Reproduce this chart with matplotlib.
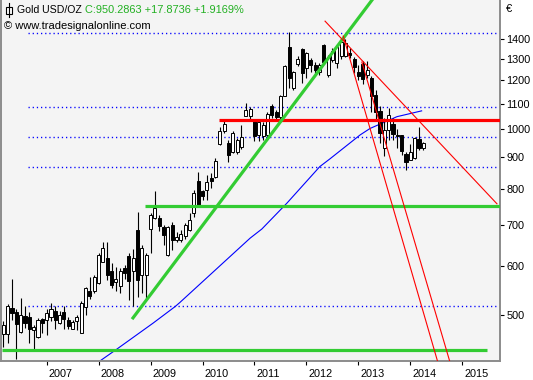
import matplotlib
matplotlib.use('Agg')
import matplotlib.pyplot as plt
from matplotlib.transforms import blended_transform_factory
from matplotlib.patches import Rectangle
from matplotlib.lines import Line2D

plt.rcParams['font.family'] = ['Liberation Sans', 'DejaVu Sans']
plt.rcParams['lines.scale_dashes'] = False

# ---- data (monthly candles, first candle = March 2006) ----
first_year = 2006
first_month = 3
opens = [466, 466, 513, 506, 470, 498, 496, 473, 460, 493,
         490, 496, 508, 486, 506, 491, 475, 488, 467, 515,
         547, 546, 563, 610, 618, 589, 565, 558, 595, 623,
         588, 687, 580, 580, 689, 717, 717, 694, 625, 699,
         661, 661, 671, 687, 731, 824, 793, 796, 833, 837,
         948, 995, 950, 920, 917, 936, 1052, 1050, 1035, 979,
         976, 979, 1092, 1068, 1045, 1131, 1360, 1165, 1275, 1350,
         1256, 1295, 1271, 1240, 1369, 1224, 1295, 1282, 1315, 1313,
         1328, 1298, 1236, 1275, 1224, 1210, 1136, 1069, 931, 997,
         1020, 979, 978, 912, 892, 898, 964, 932.4]
highs = [488, 520, 572, 511, 533, 516, 506, 482, 495, 495,
         511, 523, 517, 508, 516, 497, 491, 500, 526, 555,
         575, 580, 630, 656, 656, 606, 597, 595, 603, 629,
         640, 735, 649, 629, 731, 794, 726, 700, 697, 708,
         682, 687, 704, 731, 797, 853, 797, 843, 848, 897,
         1010, 1035, 961, 992, 967, 1016, 1102, 1085, 1035, 1035,
         1026, 1065, 1098, 1074, 1136, 1271, 1435, 1243, 1316, 1354,
         1334, 1306, 1283, 1282, 1374, 1321, 1354, 1369, 1405, 1400,
         1352, 1311, 1271, 1289, 1289, 1218, 1158, 1090, 1042, 1081,
         1042, 1001, 979, 920, 948, 972, 1010, 955]
lows = [444, 450, 491, 424, 468, 476, 450, 440, 458, 468,
        464, 488, 475, 484, 475, 474, 474, 473, 467, 500,
        531, 542, 561, 609, 570, 553, 546, 542, 572, 529,
        517, 535, 542, 530, 630, 714, 683, 649, 623, 637,
        656, 656, 665, 683, 722, 749, 768, 768, 804, 834,
        943, 985, 886, 915, 913, 930, 1050, 1030, 958, 956,
        961, 961, 1042, 1035, 1035, 1130, 1165, 1158, 1266, 1187,
        1210, 1240, 1234, 1224, 1278, 1216, 1287, 1258, 1300, 1309,
        1306, 1233, 1202, 1186, 1210, 1066, 1035, 950, 905, 961,
        961, 932, 908, 859, 890, 896, 925, 925]
closes = [482, 517, 503, 483, 499, 486, 474, 478, 491, 485,
          503, 511, 491, 500, 492, 480, 487, 496, 523, 552,
          537, 577, 625, 643, 580, 559, 572, 589, 585, 568,
          618, 570, 641, 625, 726, 744, 697, 673, 694, 661,
          670, 676, 700, 713, 789, 754, 779, 820, 823, 889,
          992, 1019, 908, 986, 961, 972, 1073, 1077, 974, 1026,
          1016, 1058, 1053, 1045, 1134, 1268, 1210, 1240, 1299, 1235,
          1329, 1271, 1247, 1271, 1283, 1308, 1338, 1360, 1387, 1378,
          1320, 1263, 1222, 1205, 1247, 1131, 1066, 986, 997, 1055,
          983, 975, 922, 886, 920, 967, 932.4, 950.2863]

# moving average (read points: bar position, value)
ma_pos = [20.0, 22.3, 26.2, 34.6, 39.7, 40.8, 57.0, 59.7, 65.5, 73.1, 75.4, 82.4, 84.7, 90.9, 96.6]
ma_val = [410, 421, 440, 485, 516, 524, 666, 689, 759, 870, 895, 979, 1003, 1048, 1071]

# horizontal levels
dotted_levels = [1430, 1085, 973, 868, 516]
dotted_from = 5.7
green_levels = [751, 439]
green_from = [32.7, -0.3]
green_to = [115, 111.7]
red_level = 1035
red_from = 49.9

# trend lines: (bar positions), (prices)
green_trend = ([29.95, 85.15], [494.5, 1620])
red_thin = ([74.3, 114.0], [1497, 757])
red_steep1 = ([78.5, 101.0], [1416, 404])
red_steep2 = ([82.8, 104.0], [1285, 400])

years = [2007, 2008, 2009, 2010, 2011, 2012, 2013, 2014, 2015]
price_ticks = [500, 600, 700, 800, 900, 1000, 1100, 1200, 1300, 1400]

title_name = 'Gold USD/OZ'
title_quote = 'C:950.2863 +17.8736 +1.9169%'
copyright_txt = '\u00a9 www.tradesignalonline.com'

# ---- figure ----
W, H = 533, 380
fig = plt.figure(figsize=(W / 100, H / 100), dpi=100)
fig.patch.set_facecolor('white')
ax = fig.add_axes([0.8 / W, (H - 361) / H, (500 - 0.8) / W, 361 / H])
ax.set_facecolor('#F4F4F4')
ax.set_yscale('log')
ax.set_ylim(421, 1620)
ax.set_xlim(-0.58, 114.7)

ax.spines['top'].set_visible(False)
for s in ['left', 'right', 'bottom']:
    ax.spines[s].set_color('#8C8C8C')
    ax.spines[s].set_linewidth(1.4)

n = len(closes)
xs = list(range(n))

# dotted levels
for lv in dotted_levels:
    ax.plot([dotted_from, 115], [lv, lv], color='#0000FF', lw=1.0,
            dashes=(0.9, 2.1), zorder=1)

# moving average
ax.plot(ma_pos, ma_val, color='#0000FF', lw=0.8, zorder=2)

# candles
ax.vlines(xs, lows, highs, color='black', lw=0.8, zorder=3)
for i in range(n):
    o, c = opens[i], closes[i]
    lo, hi = min(o, c), max(o, c)
    fc = 'white' if c >= o else 'black'
    ax.add_patch(Rectangle((i - 0.36, lo), 0.72, hi - lo, facecolor=fc,
                           edgecolor='black', lw=0.7, zorder=4))

# horizontal lines
for lv, a, b in zip(green_levels, green_from, green_to):
    ax.plot([a, b], [lv, lv], color='#33CC33', lw=2.3, zorder=5, solid_capstyle='butt')
ax.plot([red_from, 115], [red_level, red_level], color='#FF0000', lw=2.3, zorder=5,
        solid_capstyle='butt')

# trend lines
ax.plot(green_trend[0], green_trend[1], color='#33CC33', lw=2.3, zorder=5)
ax.plot(red_thin[0], red_thin[1], color='#FF0000', lw=0.8, zorder=5)
ax.plot(red_steep1[0], red_steep1[1], color='#FF0000', lw=0.8, zorder=5)
ax.plot(red_steep2[0], red_steep2[1], color='#FF0000', lw=0.8, zorder=5)

# y axis on right
ax.yaxis.tick_right()
ax.yaxis.set_minor_locator(plt.NullLocator())
ax.set_yticks(price_ticks)
ax.set_yticklabels([str(p) for p in price_ticks])
ax.tick_params(axis='y', which='major', length=3, width=0.8, pad=1.5,
               labelsize=7.8, colors='black')
ax.tick_params(axis='y', which='minor', length=0)

# x axis
tick_pos = [10 + 12 * (y - 2007) for y in years]
ax.set_xticks(tick_pos)
ax.set_xticklabels([])
ax.tick_params(axis='x', length=3, width=0.8, colors='black')
trans = blended_transform_factory(ax.transData, ax.transAxes)
for p, y in zip(tick_pos, years):
    ax.text(p + 0.5, -13 / 361, str(y), transform=trans, ha='left', va='center',
            fontsize=7.8, color='black')

# euro sign
fig.text(506 / W, 1 - 9 / H, '\u20ac', ha='left', va='center', fontsize=8)

# title lines
fig.text(17 / W, 1 - 10 / H, title_name, ha='left', va='center', fontsize=7.6, color='black')
fig.text(85 / W, 1 - 10 / H, title_quote, ha='left', va='center', fontsize=7.9, color='#22B022')
fig.text(4 / W, 1 - 26 / H, copyright_txt, ha='left', va='center', fontsize=8, color='black')

# small candle icon in title
fig.add_artist(Line2D([8.5 / W, 8.5 / W], [1 - 3 / H, 1 - 17 / H], color='black', lw=0.8))
fig.add_artist(Rectangle((5.5 / W, 1 - 13.5 / H), 6 / W, 7 / H, facecolor='white',
                         edgecolor='black', lw=0.8))

fig.savefig('out.png', dpi=100)
